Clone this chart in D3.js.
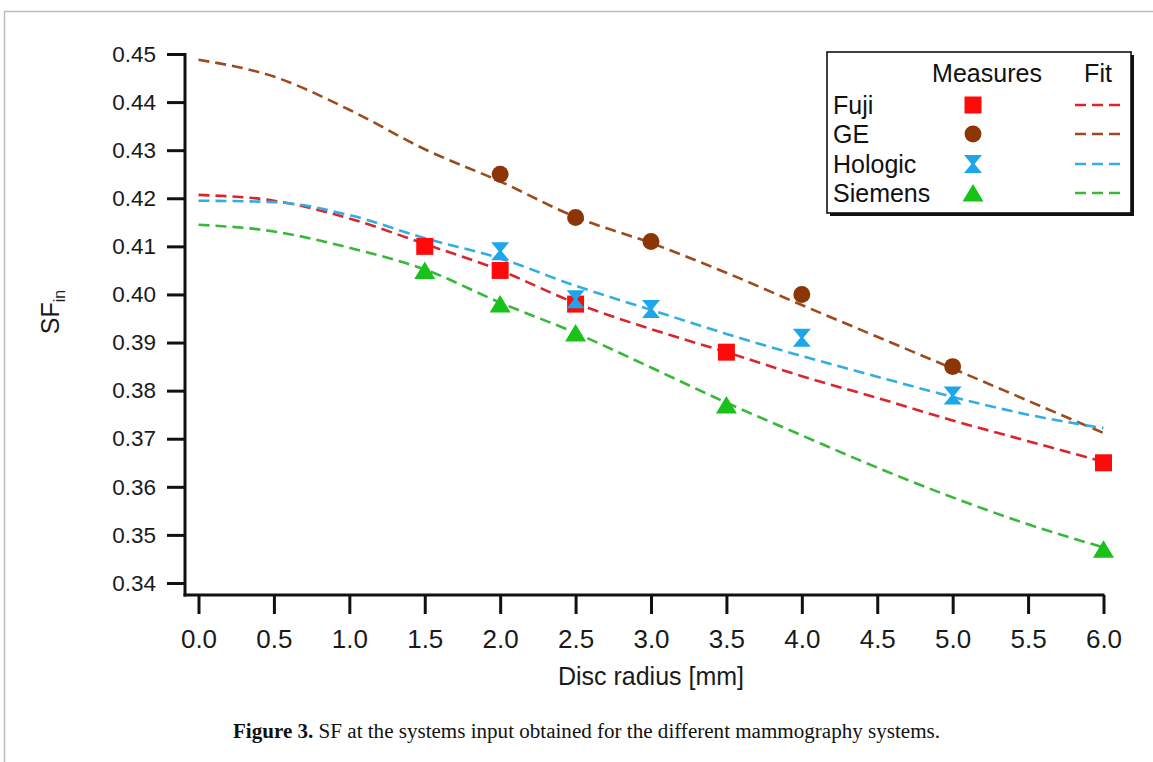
<!DOCTYPE html>
<html>
<head>
<meta charset="utf-8">
<script src="https://cdn.jsdelivr.net/npm/d3@7"></script>
<style>
  body { margin: 0; background: #fff; }
  svg { display: block; }
</style>
</head>
<body>
<svg id="chart" width="1153" height="762"></svg>
<script>
// ---- data ----
const radiusTicks = [0, 0.5, 1, 1.5, 2, 2.5, 3, 3.5, 4, 4.5, 5, 5.5, 6];
const sfTicks = [0.34, 0.35, 0.36, 0.37, 0.38, 0.39, 0.40, 0.41, 0.42, 0.43, 0.44, 0.45];

const systems = ["Fuji", "GE", "Hologic", "Siemens"];
const markerColors = ["#ff0a0a", "#8c3608", "#1ea6ea", "#18c218"];
const fitColors = ["#d8262c", "#9c4a1e", "#32aee2", "#38b838"];

// measured SF_in values
const fujiRadius = [1.5, 2.0, 2.5, 3.5, 6.0];
const fujiSF = [0.410, 0.405, 0.398, 0.388, 0.365];
const geRadius = [2.0, 2.5, 3.0, 4.0, 5.0];
const geSF = [0.425, 0.416, 0.411, 0.400, 0.385];
const hologicRadius = [2.0, 2.5, 3.0, 4.0, 5.0];
const hologicSF = [0.409, 0.399, 0.397, 0.391, 0.379];
const siemensRadius = [1.5, 2.0, 2.5, 3.5, 6.0];
const siemensSF = [0.405, 0.398, 0.392, 0.377, 0.347];

// fitted curves sampled along the disc radius
const fitRadius = [0, 0.5, 1, 1.5, 2, 2.5, 3, 3.5, 4, 4.5, 5, 5.5, 6];
const fujiFit = [0.4207, 0.4195, 0.4158, 0.4105, 0.4050, 0.3982, 0.3928, 0.3880, 0.3830, 0.3785, 0.3738, 0.3695, 0.3652];
const geFit = [0.4488, 0.4453, 0.4384, 0.4302, 0.4235, 0.4161, 0.4107, 0.4045, 0.3978, 0.3912, 0.3846, 0.3779, 0.3712];
const hologicFit = [0.4195, 0.4192, 0.4165, 0.4117, 0.4075, 0.4018, 0.3968, 0.3918, 0.3872, 0.3829, 0.3787, 0.3750, 0.3722];
const siemensFit = [0.4145, 0.4131, 0.4097, 0.4052, 0.3983, 0.3920, 0.3848, 0.3775, 0.3707, 0.3640, 0.3578, 0.3522, 0.3474];

const measured = [
  [fujiRadius, fujiSF], [geRadius, geSF], [hologicRadius, hologicSF], [siemensRadius, siemensSF]
];
const fits = [fujiFit, geFit, hologicFit, siemensFit];
const markerKinds = ["square", "circle", "hourglass", "triangle"];

// ---- drawing ----
const svg = d3.select("#chart");
const sans = "'Liberation Sans', Arial, Helvetica, sans-serif";

// page frame
svg.append("path")
  .attr("d", "M4.5,762 L4.5,11.5 L1153,11.5")
  .attr("fill", "none").attr("stroke", "#bdbdbd").attr("stroke-width", 1.5);

const x = d3.scaleLinear().domain([0, 6]).range([198.5, 1103.5]);
const y = d3.scaleLinear().domain([0.34, 0.45]).range([583, 54]);

const axisLeft = 185;
const axisBottom = 595;

// y axis
const gy = svg.append("g").attr("transform", `translate(${axisLeft},0)`)
  .call(d3.axisLeft(y).tickValues(sfTicks).tickFormat(d3.format(".2f"))
    .tickSize(18).tickPadding(11).tickSizeOuter(0));
gy.select(".domain").remove();
gy.append("line").attr("x1", 0).attr("x2", 0).attr("y1", y(0.45) - 1).attr("y2", axisBottom + 1.5)
  .attr("stroke", "#111").attr("stroke-width", 3);
gy.selectAll(".tick line").attr("stroke", "#111").attr("stroke-width", 3);
gy.selectAll(".tick text").attr("font-family", sans).attr("font-size", 22.5).attr("fill", "#1a1a1a");

// x axis
const gx = svg.append("g").attr("transform", `translate(0,${axisBottom})`)
  .call(d3.axisBottom(x).tickValues(radiusTicks).tickFormat(d3.format(".1f"))
    .tickSize(19).tickPadding(16).tickSizeOuter(0));
gx.select(".domain").remove();
gx.append("line").attr("x1", axisLeft - 1.5).attr("x2", x(6) + 1).attr("y1", 0).attr("y2", 0)
  .attr("stroke", "#111").attr("stroke-width", 3);
gx.selectAll(".tick line").attr("stroke", "#111").attr("stroke-width", 3);
gx.selectAll(".tick text").attr("font-family", sans).attr("font-size", 26).attr("fill", "#1a1a1a");

// axis titles
svg.append("text")
  .attr("x", x(3)).attr("y", 685)
  .attr("text-anchor", "middle")
  .attr("font-family", sans).attr("font-size", 25).attr("fill", "#1a1a1a")
  .text("Disc radius [mm]");

const yTitle = svg.append("text")
  .attr("transform", "translate(59,312) rotate(-90)")
  .attr("text-anchor", "middle")
  .attr("font-family", sans).attr("font-size", 25).attr("fill", "#1a1a1a");
yTitle.append("tspan").text("SF");
yTitle.append("tspan").attr("font-size", 16).attr("dy", 6).text("in");

// marker shapes
function markerPath(kind) {
  switch (kind) {
    case "square": return "M-8.5,-8.5H8.5V8.5H-8.5Z";
    case "circle": return d3.symbol(d3.symbolCircle, 225)();
    case "hourglass": return "M-9,-9H9L1.6,0L9,9H-9L-1.6,0Z";
    case "triangle": return "M0,-9L10.5,8.5H-10.5Z";
  }
}

// fitted curves
const fitLine = d3.line()
  .x((d, i) => x(fitRadius[i]))
  .y(d => y(d))
  .curve(d3.curveMonotoneX);

fits.forEach((vals, k) => {
  svg.append("path")
    .attr("d", fitLine(vals))
    .attr("fill", "none")
    .attr("stroke", fitColors[k])
    .attr("stroke-width", 2.6)
    .attr("stroke-dasharray", "11,6");
});

// measured points
measured.forEach(([rs, vs], k) => {
  svg.append("g").selectAll("path")
    .data(rs.map((r, i) => [r, vs[i]]))
    .join("path")
    .attr("transform", d => `translate(${x(d[0])},${y(d[1])})`)
    .attr("d", markerPath(markerKinds[k]))
    .attr("fill", markerColors[k]);
});

// legend
const lg = svg.append("g");
lg.append("rect").attr("x", 830).attr("y", 55).attr("width", 304).attr("height", 161).attr("fill", "#111");
lg.append("rect").attr("x", 827).attr("y", 52).attr("width", 304).attr("height", 161)
  .attr("fill", "#fff").attr("stroke", "#111").attr("stroke-width", 1.6);
lg.append("text").attr("x", 987).attr("y", 82).attr("text-anchor", "middle")
  .attr("font-family", sans).attr("font-size", 25).attr("fill", "#111").text("Measures");
lg.append("text").attr("x", 1098).attr("y", 82).attr("text-anchor", "middle")
  .attr("font-family", sans).attr("font-size", 25).attr("fill", "#111").text("Fit");

const rowY = [105, 134, 164, 193];
systems.forEach((name, k) => {
  lg.append("text").attr("x", 833).attr("y", rowY[k] + 9)
    .attr("font-family", sans).attr("font-size", 25).attr("fill", "#111").text(name);
  lg.append("path").attr("transform", `translate(973,${rowY[k]})`)
    .attr("d", markerPath(markerKinds[k])).attr("fill", markerColors[k]);
  lg.append("line").attr("x1", 1075).attr("x2", 1124).attr("y1", rowY[k]).attr("y2", rowY[k])
    .attr("stroke", fitColors[k]).attr("stroke-width", 2.6).attr("stroke-dasharray", "11,6");
});

// caption
const cap = svg.append("text")
  .attr("x", 233).attr("y", 738)
  .attr("font-family", "'Liberation Serif', 'Times New Roman', serif")
  .attr("font-size", 20).attr("fill", "#111")
  .attr("textLength", 707).attr("lengthAdjust", "spacingAndGlyphs");
cap.append("tspan").attr("font-weight", "bold").text("Figure 3.");
cap.append("tspan").text(" SF at the systems input obtained for the different mammography systems.");
</script>
</body>
</html>
